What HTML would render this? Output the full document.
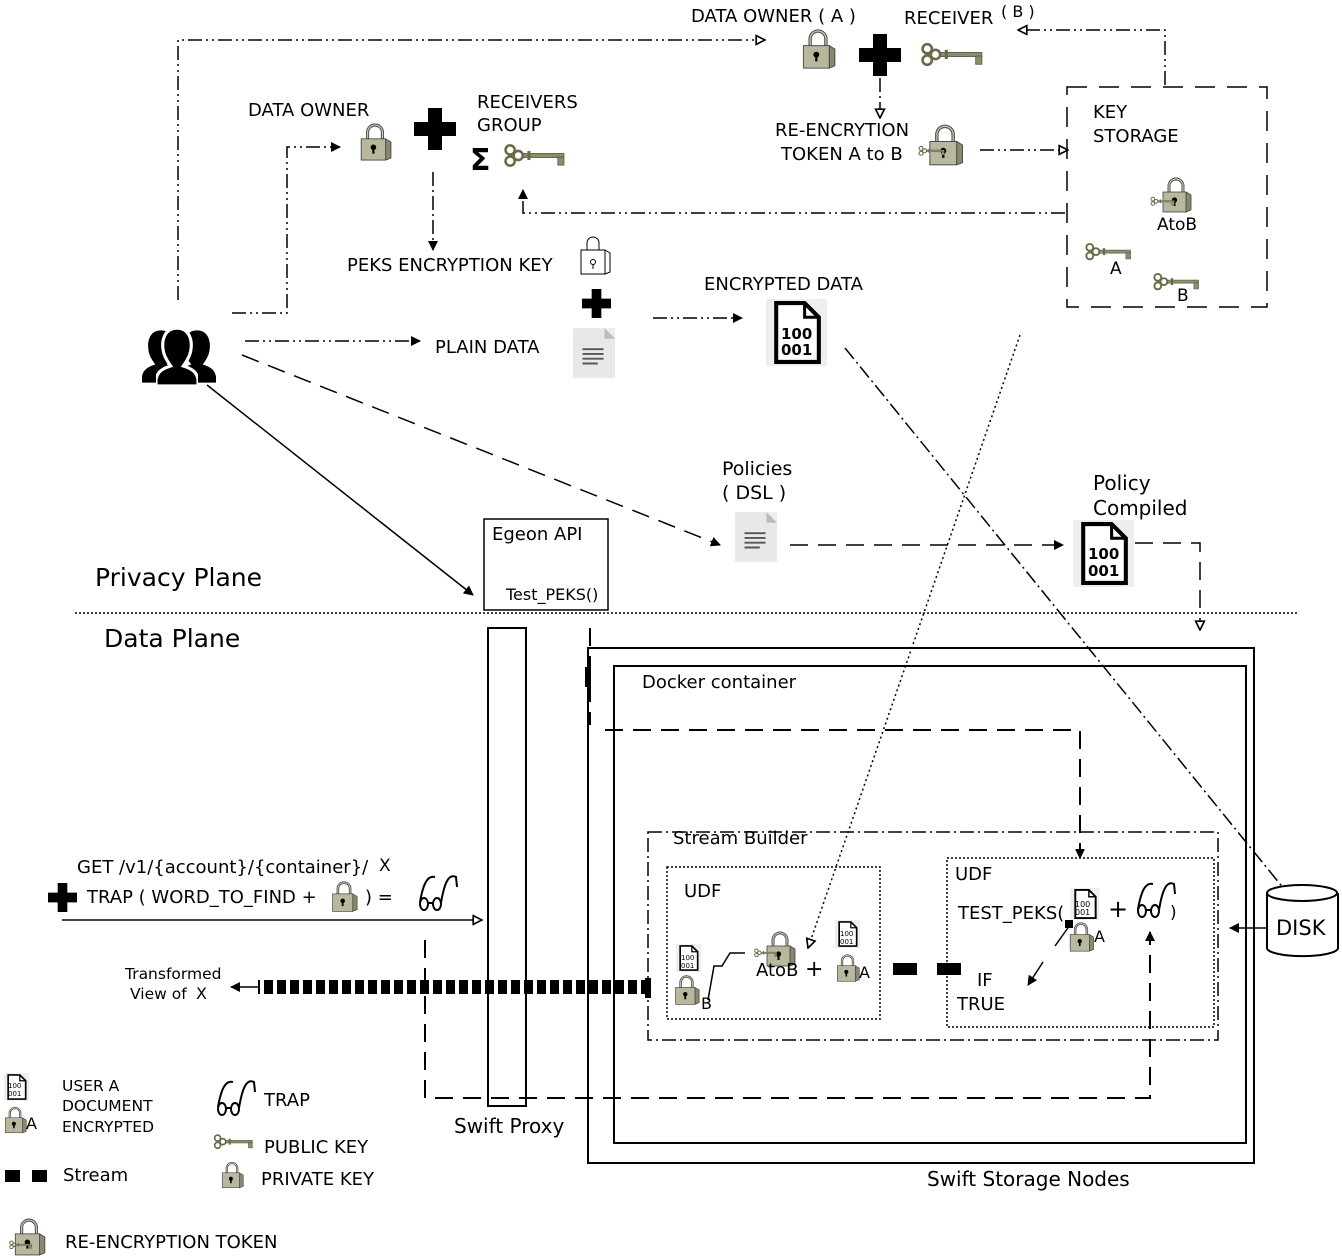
<!DOCTYPE html>
<html><head><meta charset="utf-8"><style>
html,body{margin:0;padding:0;background:#fff}
svg{display:block}
text{font-family:"DejaVu Sans","Liberation Sans",sans-serif;fill:#000}
</style></head><body>
<svg width="1342" height="1256" viewBox="0 0 1342 1256" xmlns="http://www.w3.org/2000/svg">
<defs>
<marker id="af" viewBox="0 0 10 10" refX="9" refY="5" markerWidth="10" markerHeight="10" markerUnits="userSpaceOnUse" orient="auto"><path d="M0,0 L10,5 L0,10 z" fill="#000"/></marker>
<marker id="ao" viewBox="0 0 10 10" refX="9" refY="5" markerWidth="11" markerHeight="11" markerUnits="userSpaceOnUse" orient="auto"><path d="M1,1 L9,5 L1,9 z" fill="#fff" stroke="#000" stroke-width="1.5"/></marker>
<marker id="al" viewBox="0 0 10 10" refX="9" refY="5" markerWidth="12" markerHeight="12" markerUnits="userSpaceOnUse" orient="auto"><path d="M0,1 L10,5 L0,9" fill="none" stroke="#000" stroke-width="1.5"/></marker>
<symbol id="lock" viewBox="0 0 32 36"><path d="M9 17 V9 a7 7 0 0 1 14 0 V17" fill="none" stroke="#555" stroke-width="3"/><path d="M9 17 V9 a7 7 0 0 1 14 0 V17" fill="none" stroke="#cfcdb5" stroke-width="1"/><polygon points="26,15 31,18 31,33 26,35" fill="#8a886c" stroke="#444" stroke-width="0.8"/><rect x="3" y="15" width="23" height="20" fill="#b9b79d" stroke="#444" stroke-width="0.8"/><circle cx="14.5" cy="23" r="2.6" fill="#000"/><rect x="13.5" y="23" width="2" height="6" fill="#000"/></symbol>
<symbol id="key" viewBox="0 0 64 26"><g fill="none" stroke="#6b6a48" stroke-width="2.5"><circle cx="7" cy="7" r="4.5"/><circle cx="7" cy="18" r="4.5"/><circle cx="15" cy="12.5" r="4.5"/></g><rect x="20" y="10.5" width="40" height="4" fill="#8f8d66" stroke="#555" stroke-width="0.8"/><rect x="24" y="8" width="3" height="9" fill="#6b6a48"/><rect x="54" y="14" width="6" height="8" fill="#8f8d66" stroke="#555" stroke-width="0.8"/></symbol>
<symbol id="plus" viewBox="0 0 42 42"><path d="M14 0 H28 V14 H42 V28 H28 V42 H14 V28 H0 V14 H14 z" fill="#000"/></symbol>
<symbol id="glass" viewBox="0 0 42 40"><g fill="none" stroke="#000" stroke-width="2"><ellipse cx="7" cy="31" rx="4" ry="6"/><ellipse cx="20" cy="31" rx="4" ry="6"/><path d="M11 30 h5"/><path d="M3 29 C6 12 10 2 18 4"/><path d="M24 30 C27 12 31 0 39 4 L40 14"/></g></symbol>
<symbol id="tdoc" viewBox="0 0 44 52"><rect x="0" y="0" width="44" height="52" fill="#ededed"/><path d="M0 0 H33 L44 11 V52 H0z" fill="#e8e8e8"/><path d="M33 0 L44 11 H33z" fill="#bbb"/><g stroke="#555" stroke-width="2"><path d="M10 22h22M10 27h22M10 32h22M10 37h16"/></g></symbol>
<symbol id="bdoc" viewBox="0 0 60 66"><rect width="60" height="66" fill="#eee"/><path d="M10 4 H38 L52 18 V62 H10z" fill="#fff" stroke="#000" stroke-width="4"/><path d="M38 4 V18 H52" fill="none" stroke="#000" stroke-width="3"/></symbol>
<symbol id="person" viewBox="0 0 40 58"><path d="M20 2 c12 0 15 12 13 22 c-1 6 -5 11 -7 14 c10 3 13 7 14 13 v6 H0 v-6 c1 -6 4 -10 14 -13 c-2 -3 -6 -8 -7 -14 c-2 -10 1 -22 13 -22z"/></symbol>
</defs>

<g fill="none" stroke="#000" stroke-width="1.5">
<path d="M178 300 V40 H765" stroke-dasharray="14 4 2 4 2 4" marker-end="url(#ao)"/>
<path d="M1165 85 V30 H1018" stroke-dasharray="14 4 2 4 2 4" marker-end="url(#ao)"/>
<path d="M232 313 H287 V147 H340" stroke-dasharray="14 4 2 4 2 4" marker-end="url(#af)"/>
<path d="M433 172 V250" stroke-dasharray="14 4 2 4" marker-end="url(#af)"/>
<path d="M880 78 V118" stroke-dasharray="14 4 2 4" marker-end="url(#ao)"/>
<path d="M980 150 H1068" stroke-dasharray="14 4 2 4 2 4" marker-end="url(#ao)"/>
<path d="M1065 213 H523 V190" stroke-dasharray="14 4 2 4 2 4" marker-end="url(#af)"/>
<path d="M245 341 H420" stroke-dasharray="14 4 2 4 2 4" marker-end="url(#af)"/>
<path d="M653 318 H742" stroke-dasharray="14 4 2 4 2 4" marker-end="url(#af)"/>
<path d="M242 355 L720 545" stroke-dasharray="18 10" marker-end="url(#af)"/>
<path d="M790 545 H1063" stroke-dasharray="18 10" marker-end="url(#af)"/>
<path d="M1135 543 H1200 V630" stroke-dasharray="18 10" marker-end="url(#ao)"/>
<path d="M207 385 L473 595" marker-end="url(#af)"/>
<path d="M845 348 L1293 900" stroke-dasharray="14 4 2 4" marker-end="url(#al)"/>
<path d="M1020 335 L808 948" stroke-dasharray="2 3" marker-end="url(#ao)"/>
<rect x="1067" y="87" width="200" height="220" stroke-dasharray="20 12"/>
</g>
<line x1="75" y1="613" x2="1297" y2="613" stroke="#000" stroke-width="1.5" stroke-dasharray="2 2"/>

<text x="691" y="22" font-size="18">DATA OWNER ( A )</text>
<text x="904" y="24" font-size="18">RECEIVER</text><text x="1001" y="17" font-size="16">( B )</text>
<use href="#lock" x="800" y="28" width="36" height="42"/>
<use href="#plus" x="859" y="34" width="42" height="42"/>
<use href="#key" x="920" y="40" width="66" height="30"/>
<text x="775" y="136" font-size="18">RE-ENCRYTION</text>
<text x="781" y="160" font-size="18">TOKEN  A to B</text>
<use href="#lock" x="926" y="124" width="38" height="42"/><use href="#key" x="918" y="145" width="28" height="12"/>
<text x="1093" y="118" font-size="18">KEY</text><text x="1093" y="142" font-size="18">STORAGE</text>
<use href="#lock" x="1158" y="177" width="36" height="36"/><use href="#key" x="1150" y="196" width="26" height="11"/>
<text x="1157" y="230" font-size="17">AtoB</text>
<use href="#key" x="1084" y="242" width="50" height="20"/><text x="1110" y="274" font-size="17">A</text>
<use href="#key" x="1152" y="272" width="50" height="20"/><text x="1177" y="301" font-size="17">B</text>

<text x="248" y="116" font-size="18">DATA OWNER</text>
<use href="#lock" x="358" y="121" width="34" height="42"/>
<use href="#plus" x="414" y="108" width="42" height="42"/>
<text x="477" y="108" font-size="18">RECEIVERS</text><text x="477" y="131" font-size="18">GROUP</text>
<text x="470" y="170" font-size="30" font-weight="bold">Σ</text>
<use href="#key" x="503" y="142" width="65" height="28"/>
<text x="347" y="271" font-size="18">PEKS ENCRYPTION KEY</text>
<g transform="translate(579,236)" fill="none" stroke="#000" stroke-width="1"><path d="M8 14 V7 a6 6 0 0 1 12 0 V14"/><rect x="2" y="14" width="24" height="24"/><path d="M26 14 L31 17 V36 L26 38"/><circle cx="14" cy="26" r="2.5"/><path d="M14 28 v5"/></g>
<use href="#plus" x="582" y="289" width="29" height="29"/>
<use href="#tdoc" x="573" y="327" width="42" height="52"/>
<text x="435" y="353" font-size="18">PLAIN DATA</text>
<text x="704" y="290" font-size="18">ENCRYPTED DATA</text>
<use href="#bdoc" x="763" y="299" width="67" height="67"/>
<text x="781" y="339" font-size="15" font-weight="bold">100</text><text x="781" y="355" font-size="15" font-weight="bold">001</text>
<g>
<use href="#person" x="142" y="328" width="38" height="56" fill="#000"/>
<use href="#person" x="178" y="328" width="38" height="56" fill="#000"/>
<use href="#person" x="156" y="326" width="42" height="61" fill="#000" stroke="#fff" stroke-width="3"/>
</g>

<text x="722" y="475" font-size="19">Policies</text><text x="722" y="499" font-size="19">( DSL )</text>
<use href="#tdoc" x="735" y="511" width="42" height="52"/>
<text x="1093" y="490" font-size="20">Policy</text><text x="1093" y="515" font-size="20">Compiled</text>
<use href="#bdoc" x="1070" y="520" width="67" height="67"/>
<text x="1088" y="559" font-size="15" font-weight="bold">100</text><text x="1088" y="576" font-size="15" font-weight="bold">001</text>

<rect x="484" y="519" width="124" height="91" fill="none" stroke="#000" stroke-width="1.5"/>
<text x="492" y="540" font-size="18">Egeon API</text>
<text x="506" y="600" font-size="16">Test_PEKS()</text>
<text x="95" y="586" font-size="25">Privacy Plane</text>
<text x="104" y="647" font-size="25">Data Plane</text>

<g fill="none" stroke="#000" stroke-width="2">
<rect x="488" y="628" width="38" height="478"/>
<rect x="588" y="648" width="666" height="515"/>
<rect x="614" y="666" width="632" height="477"/>
</g>
<g fill="none" stroke="#000" stroke-width="2">
<path d="M590 628 V725" stroke-dasharray="18 10"/>
<path d="M605 730 H1080 V858" stroke-dasharray="18 10" marker-end="url(#af)"/>
<path d="M425 940 V1098 H1150 V932" stroke-dasharray="18 10" marker-end="url(#af)"/>
<rect x="648" y="832" width="570" height="208" stroke-width="1.5" stroke-dasharray="14 4 2 4"/>
<rect x="667" y="867" width="213" height="152" stroke-width="1.5" stroke-dasharray="2 2"/>
<rect x="947" y="858" width="267" height="169" stroke-width="1.5" stroke-dasharray="2 2"/>
<path d="M62 920 H482" stroke-width="1.5" marker-end="url(#ao)"/>
<path d="M650 987 H258" stroke-width="14" stroke-dasharray="9 4"/>
<path d="M258 987 H231" stroke-width="1.5" marker-end="url(#af)"/>
<path d="M1267 928 H1230" stroke-width="1.5" marker-end="url(#af)"/>
<path d="M1070 925 L1055 946" stroke-width="1.5"/>
<path d="M1043 962 L1028 985" stroke-width="1.5" marker-end="url(#af)"/>
<path d="M708 1000 L714 966 H722 L730 953 H745" stroke-width="1.5"/>
</g>
<rect x="1065" y="920" width="8" height="8" fill="#000"/>
<rect x="893" y="963" width="24" height="12" fill="#000"/>
<rect x="937" y="963" width="24" height="12" fill="#000"/>
<rect x="585" y="667" width="6" height="20" fill="#000"/>
<rect x="645" y="978" width="6" height="20" fill="#000"/>

<text x="642" y="688" font-size="18">Docker container</text>
<text x="673" y="844" font-size="18">Stream Builder</text>
<text x="684" y="897" font-size="18">UDF</text>
<text x="955" y="880" font-size="18">UDF</text>
<use href="#bdoc" x="676" y="944" width="25" height="28"/><text x="681" y="960" font-size="7">100</text><text x="681" y="968" font-size="7">001</text>
<use href="#lock" x="673" y="974" width="27" height="32"/><text x="701" y="1009" font-size="16">B</text>
<use href="#lock" x="760" y="931" width="40" height="36"/><use href="#key" x="752" y="948" width="28" height="10"/>
<text x="756" y="976" font-size="18">AtoB</text><text x="805" y="976" font-size="22">+</text>
<use href="#bdoc" x="835" y="920" width="25" height="28"/><text x="840" y="936" font-size="7">100</text><text x="840" y="944" font-size="7">001</text>
<use href="#lock" x="835" y="953" width="25" height="30"/><text x="859" y="978" font-size="16">A</text>
<text x="958" y="919" font-size="18">TEST_PEKS(</text>
<use href="#bdoc" x="1070" y="888" width="30" height="32"/><text x="1075" y="907" font-size="8">100</text><text x="1075" y="915" font-size="8">001</text>
<use href="#lock" x="1067" y="922" width="28" height="30"/><text x="1094" y="942" font-size="16">A</text>
<text x="1108" y="917" font-size="24">+</text>
<use href="#glass" x="1135" y="880" width="42" height="40"/>
<text x="1170" y="918" font-size="17">)</text>
<text x="977" y="986" font-size="18">IF</text>
<text x="957" y="1010" font-size="18">TRUE</text>

<g fill="#fff" stroke="#000" stroke-width="2">
<path d="M1267 893 V948 A35 8 0 0 0 1338 948 V893"/>
<ellipse cx="1302" cy="893" rx="35" ry="8"/>
</g>
<text x="1276" y="935" font-size="21">DISK</text>

<text x="454" y="1133" font-size="20">Swift Proxy</text>
<text x="927" y="1186" font-size="20">Swift Storage Nodes</text>

<text x="77" y="873" font-size="18">GET /v1/{account}/{container}/</text><text x="379" y="871" font-size="17">X</text>
<use href="#plus" x="48" y="883" width="29" height="29"/>
<text x="87" y="903" font-size="18">TRAP ( WORD_TO_FIND +</text>
<use href="#lock" x="330" y="880" width="28" height="33"/>
<text x="365" y="903" font-size="18">) =</text>
<use href="#glass" x="417" y="873" width="42" height="40"/>
<text x="125" y="979" font-size="15.5">Transformed</text><text x="130" y="999" font-size="15.5">View of</text><text x="196" y="999" font-size="16">X</text>

<use href="#bdoc" x="4" y="1073" width="25" height="28"/><text x="8" y="1088" font-size="7">100</text><text x="8" y="1096" font-size="7">001</text>
<use href="#lock" x="3" y="1105" width="24" height="30"/><text x="26" y="1129" font-size="16">A</text>
<text x="62" y="1091" font-size="15.5">USER A</text><text x="62" y="1111" font-size="15.5">DOCUMENT</text><text x="62" y="1132" font-size="15.5">ENCRYPTED</text>
<use href="#glass" x="215" y="1078" width="42" height="40"/><text x="264" y="1106" font-size="18">TRAP</text>
<use href="#key" x="213" y="1133" width="42" height="18"/><text x="264" y="1153" font-size="18">PUBLIC KEY</text>
<use href="#lock" x="220" y="1161" width="24" height="28"/><text x="261" y="1185" font-size="18">PRIVATE KEY</text>
<rect x="5" y="1170" width="15" height="12" fill="#000"/><rect x="32" y="1170" width="15" height="12" fill="#000"/>
<text x="63" y="1181" font-size="18">Stream</text>
<use href="#lock" x="10" y="1218" width="38" height="38"/><use href="#key" x="8" y="1240" width="26" height="10"/>
<text x="65" y="1248" font-size="18">RE-ENCRYPTION  TOKEN</text>
</svg>
</body></html>
